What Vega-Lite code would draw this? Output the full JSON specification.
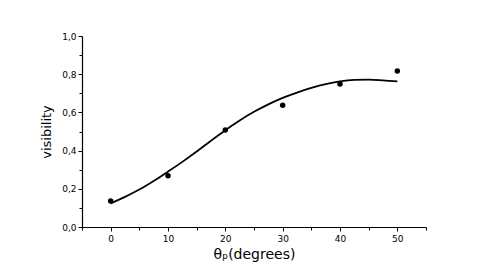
{
  "$schema": "https://vega.github.io/schema/vega-lite/v6.json",
  "autosize": "none",
  "width": 344,
  "height": 191,
  "padding": {"left": 82, "top": 36, "right": 65, "bottom": 46},
  "background": "white",
  "config": {"view": {"stroke": null}},
  "datasets": {
    "pts": [
      {"theta": 0, "vis": 0.136},
      {"theta": 10, "vis": 0.268},
      {"theta": 20, "vis": 0.508},
      {"theta": 30, "vis": 0.637},
      {"theta": 40, "vis": 0.749},
      {"theta": 50, "vis": 0.817}
    ],
    "fit": [
      {"theta": 0, "vis": 0.124},
      {"theta": 2.5, "vis": 0.158},
      {"theta": 5, "vis": 0.196},
      {"theta": 7.5, "vis": 0.241},
      {"theta": 10, "vis": 0.290},
      {"theta": 12.5, "vis": 0.341},
      {"theta": 15, "vis": 0.395},
      {"theta": 17.5, "vis": 0.452},
      {"theta": 20, "vis": 0.507},
      {"theta": 22.5, "vis": 0.558},
      {"theta": 25, "vis": 0.603},
      {"theta": 27.5, "vis": 0.642},
      {"theta": 30, "vis": 0.676},
      {"theta": 32.5, "vis": 0.704},
      {"theta": 35, "vis": 0.728},
      {"theta": 37.5, "vis": 0.748},
      {"theta": 40, "vis": 0.762},
      {"theta": 42.5, "vis": 0.770},
      {"theta": 45, "vis": 0.772},
      {"theta": 47.5, "vis": 0.768},
      {"theta": 50, "vis": 0.762}
    ]
  },
  "encoding": {
    "x": {
      "field": "theta", "type": "quantitative",
      "scale": {"domain": [-5, 55], "nice": false, "zero": false},
      "axis": {
        "title": "θₚ(degrees)",
        "titleFont": "DejaVu Sans", "titleFontSize": 14, "titleFontWeight": "normal", "titleColor": "black",
        "titlePadding": 4,
        "values": [-5, 0, 5, 10, 15, 20, 25, 30, 35, 40, 45, 50, 55],
        "labelExpr": "datum.value % 10 == 0 && datum.value >= 0 && datum.value <= 50 ? format(datum.value, 'd') : ''",
        "labelFont": "DejaVu Sans", "labelFontSize": 9, "labelColor": "black", "labelPadding": 3,
        "grid": false, "domainColor": "black", "domainWidth": 1.2,
        "tickColor": "black",
        "tickSize": {"condition": {"test": "datum.value % 10 == 0", "value": 4}, "value": 3}
      }
    },
    "y": {
      "field": "vis", "type": "quantitative",
      "scale": {"domain": [0, 1], "nice": false},
      "axis": {
        "title": "visibility",
        "titleFont": "DejaVu Sans", "titleFontSize": 13, "titleFontWeight": "normal", "titleColor": "black",
        "titlePadding": 8,
        "values": [0, 0.1, 0.2, 0.3, 0.4, 0.5, 0.6, 0.7, 0.8, 0.9, 1.0],
        "labelExpr": "round(datum.value * 10) % 2 == 0 ? replace(format(datum.value, '.1f'), '.', ',') : ''",
        "labelFont": "DejaVu Sans", "labelFontSize": 9, "labelColor": "black", "labelPadding": 2,
        "grid": false, "domainColor": "black", "domainWidth": 1.2,
        "tickColor": "black",
        "tickSize": {"condition": {"test": "round(datum.value * 10) % 2 == 0", "value": 4}, "value": 3}
      }
    }
  },
  "layer": [
    {
      "data": {"name": "fit"},
      "mark": {"type": "line", "interpolate": "monotone", "color": "black", "strokeWidth": 1.8}
    },
    {
      "data": {"name": "pts"},
      "mark": {"type": "point", "filled": true, "color": "black", "opacity": 1, "size": 30}
    }
  ]
}
